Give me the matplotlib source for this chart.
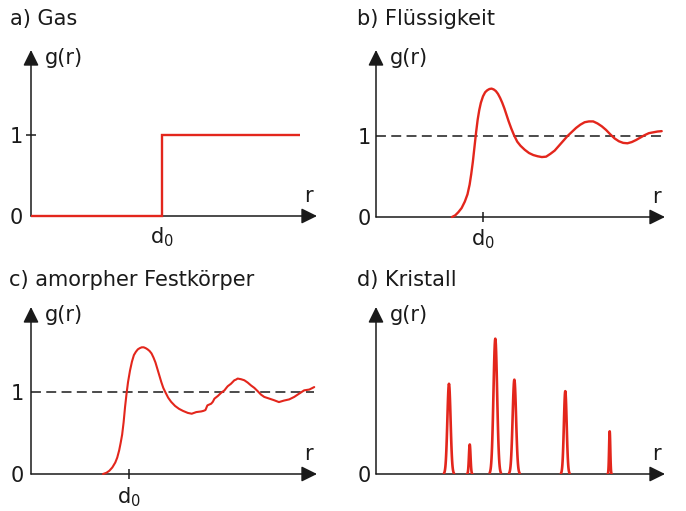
import numpy as np
import matplotlib.pyplot as plt

# pair distribution function g(r) sketches, r in units of d0

gas_r = [0, 1, 1, 2.05]
gas_g = [0, 0, 1, 1]

liquid_r = [0.71, 0.74, 0.77, 0.80, 0.83, 0.855, 0.875, 0.89, 0.905, 0.92, 0.935, 0.95,
            0.965, 0.98, 1.00, 1.02, 1.04, 1.06, 1.08, 1.10, 1.12, 1.14, 1.16, 1.18,
            1.20, 1.22, 1.24, 1.265, 1.29, 1.32, 1.35, 1.39, 1.43, 1.47, 1.51, 1.55,
            1.59, 1.63, 1.67, 1.71, 1.75, 1.79, 1.83, 1.87, 1.91, 1.95, 1.99, 2.03,
            2.07, 2.11, 2.15, 2.19, 2.23, 2.27, 2.31, 2.35, 2.39, 2.43, 2.47, 2.51,
            2.55, 2.59, 2.63, 2.67]
liquid_g = [0, 0.02, 0.06, 0.11, 0.19, 0.28, 0.40, 0.53, 0.68, 0.86, 1.04, 1.20,
            1.32, 1.41, 1.49, 1.54, 1.565, 1.58, 1.585, 1.575, 1.555, 1.52, 1.47, 1.41,
            1.34, 1.26, 1.18, 1.09, 1.01, 0.93, 0.88, 0.83, 0.79, 0.765, 0.75, 0.74,
            0.745, 0.78, 0.82, 0.88, 0.94, 1.0, 1.05, 1.10, 1.14, 1.17, 1.18, 1.18,
            1.155, 1.12, 1.075, 1.02, 0.97, 0.935, 0.915, 0.91, 0.925, 0.95, 0.98, 1.01,
            1.035, 1.045, 1.055, 1.06]

amorph_r = [0.735, 0.77, 0.80, 0.83, 0.86, 0.88, 0.90, 0.915, 0.93, 0.945, 0.96, 0.975,
            0.99, 1.01, 1.03, 1.05, 1.07, 1.09, 1.11, 1.13, 1.15, 1.17, 1.19, 1.21,
            1.23, 1.25, 1.27, 1.29, 1.31, 1.33, 1.35, 1.37, 1.40, 1.43, 1.47, 1.51,
            1.55, 1.60, 1.64, 1.686, 1.737, 1.76, 1.78, 1.80, 1.838, 1.855, 1.872, 1.906,
            1.94, 1.974, 1.99, 2.007, 2.04, 2.075, 2.09, 2.109, 2.125, 2.143, 2.177, 2.211,
            2.245, 2.279, 2.313, 2.347, 2.38, 2.43, 2.48, 2.53, 2.58, 2.635, 2.686, 2.736,
            2.787, 2.84, 2.89]
amorph_g = [0, 0.015, 0.04, 0.08, 0.14, 0.20, 0.29, 0.38, 0.48, 0.63, 0.82, 0.98,
            1.12, 1.26, 1.37, 1.45, 1.49, 1.52, 1.535, 1.545, 1.545, 1.535, 1.52, 1.50,
            1.47, 1.42, 1.36, 1.28, 1.20, 1.12, 1.05, 1.0, 0.93, 0.88, 0.83, 0.795,
            0.77, 0.745, 0.735, 0.755, 0.763, 0.77, 0.78, 0.837, 0.857, 0.88, 0.919, 0.951,
            0.99, 1.02, 1.045, 1.07, 1.10, 1.143, 1.15, 1.164, 1.16, 1.156, 1.143, 1.115,
            1.08, 1.05, 1.01, 0.968, 0.94, 0.92, 0.90, 0.877, 0.895, 0.91, 0.94, 0.98,
            1.02, 1.03, 1.06]

# crystal: peak position, height, width
crystal_pos = [0.682, 0.876, 1.115, 1.293, 1.769, 2.184]
crystal_height = [1.10, 0.36, 1.65, 1.15, 1.01, 0.52]
crystal_width = [0.015, 0.0075, 0.017, 0.016, 0.013, 0.0056]

titles = ['a) Gas', 'b) Flüssigkeit', 'c) amorpher Festkörper', 'd) Kristall']

RED = '#e3261c'
INK = '#1a1a1a'
W, H = 686, 511
FS = 15

plt.rcParams['font.family'] = ['DejaVu Sans']
fig = plt.figure(figsize=(W / 100, H / 100), dpi=100)


def make_axes(ox, oy, tipx, tipy, xs, ys):
    # place axes so data origin sits at pixel (ox, oy)
    ax = fig.add_axes([ox / W, (H - oy) / H, (tipx - ox) / W, (oy - tipy) / H])
    ax.set_xlim(0, (tipx - ox) / xs)
    ax.set_ylim(0, (oy - tipy) / ys)
    for s in ax.spines.values():
        s.set_visible(False)
    arrow = dict(arrowstyle='-|>,head_length=0.95,head_width=0.47', color=INK,
                 lw=1.1, mutation_scale=10, shrinkA=0, shrinkB=0)
    ax.annotate('', xy=(1, 0), xytext=(0, 0), xycoords='axes fraction', arrowprops=arrow)
    ax.annotate('', xy=(0, 1), xytext=(0, 0), xycoords='axes fraction', arrowprops=arrow)
    ax.annotate('g(r)', xy=(0, 1), xycoords='axes fraction', xytext=(14, -8),
                textcoords='offset pixels', ha='left', va='center', fontsize=FS, color=INK)
    ax.annotate('r', xy=(1, 0), xycoords='axes fraction', xytext=(-9, 20),
                textcoords='offset pixels', ha='center', va='center', fontsize=FS, color=INK)
    ax.tick_params(axis='both', length=0, labelsize=FS, colors=INK, width=1.1)
    ax.patch.set_visible(False)
    return ax


d0 = r'$\mathregular{d_0}$'
line_kw = dict(color=RED, lw=1.7, clip_on=False, zorder=3,
               solid_joinstyle='round', solid_capstyle='round')

# a) Gas
ax = make_axes(31, 216, 317, 50, 131, 81)
ax.plot(gas_r, gas_g, **dict(line_kw, solid_joinstyle='miter', solid_capstyle='butt'))
ax.set_yticks([0, 1], ['0', '1'])
ax.tick_params(axis='y', direction='inout', length=7, pad=2.5)
ax.yaxis.get_major_ticks()[0].tick1line.set_visible(False)
ax.set_xticks([1], [d0])
ax.tick_params(axis='x', pad=7)

# b) Flüssigkeit
ax = make_axes(376, 217, 665, 50, 107, 81)
ax.plot([0, liquid_r[-1]], [1, 1], color=INK, lw=1.1, dashes=(6.5, 3.5))
ax.plot(liquid_r, liquid_g, **line_kw)
ax.set_yticks([0, 1], ['0', '1'])
ax.tick_params(axis='y', pad=4)
ax.set_xticks([1], [d0])
ax.tick_params(axis='x', direction='inout', length=7, pad=4)

# c) amorpher Festkörper
ax = make_axes(31, 474, 317, 307, 98, 82)
ax.plot([0, amorph_r[-1]], [1, 1], color=INK, lw=1.1, dashes=(6.5, 3.5))
ax.plot(amorph_r, amorph_g, **dict(line_kw, lw=1.5))
ax.set_yticks([0, 1], ['0', '1'])
ax.tick_params(axis='y', pad=5)
ax.set_xticks([1], [d0])
ax.tick_params(axis='x', direction='inout', length=7, pad=5)

# d) Kristall
ax = make_axes(376, 474, 665, 307, 107, 82)
for c, h, w in zip(crystal_pos, crystal_height, crystal_width):
    r = np.linspace(c - 3 * w, c + 3 * w, 41)
    ax.plot(r, h * np.exp(-0.5 * ((r - c) / w) ** 2), color=RED, lw=1.9, zorder=3)
ax.set_yticks([0], ['0'])
ax.tick_params(axis='y', pad=4)
ax.set_xticks([])

for t, (x, y) in zip(titles, [(10, 25), (357, 25), (9, 286), (357, 286)]):
    fig.text(x / W, 1 - y / H, t, fontsize=FS, va='baseline', ha='left', color=INK)

fig.savefig('out.png', dpi=100)
